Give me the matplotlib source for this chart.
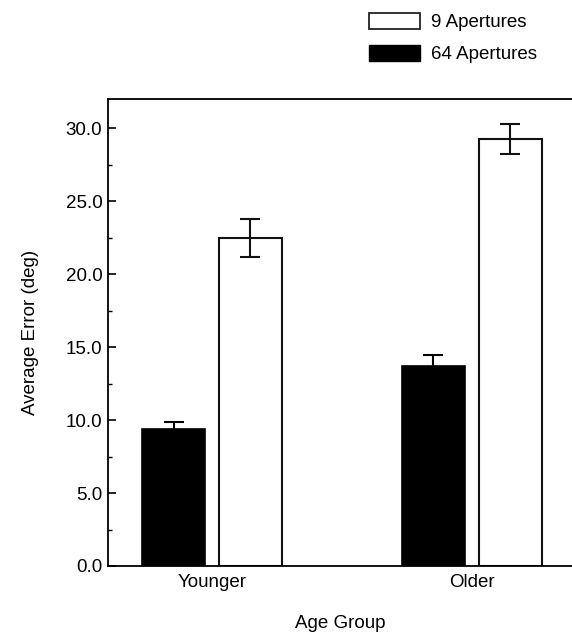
import matplotlib
matplotlib.use('Agg')
import matplotlib.pyplot as plt
import numpy as np
from matplotlib.patches import Patch
from matplotlib.ticker import MultipleLocator, FormatStrFormatter

plt.rcParams['font.family'] = ['Liberation Sans', 'DejaVu Sans']

# data
groups = ['Younger', 'Older']
err64 = [0.45, 0.75]
mean64 = [9.4, 13.7]
mean9 = [22.45, 29.25]
err9 = [1.3, 1.05]

fs = 13.5

fig = plt.figure(figsize=(5.72, 6.32), dpi=100)
ax = fig.add_axes([108/572, 1 - 566/632, 1 - 108/572, (566 - 99)/632])

x = np.arange(len(groups))
w = 0.242
off = 0.148
ax.bar(x - off, mean64, w, color='black', edgecolor='black', lw=1.2, zorder=2)
ax.bar(x + off, mean9, w, color='white', edgecolor='#111111', lw=1.5, zorder=2)
ax.errorbar(x - off, mean64, yerr=err64, fmt='none', ecolor='black',
            elinewidth=1.5, capsize=7.5, capthick=1.5, zorder=3)
ax.errorbar(x + off, mean9, yerr=err9, fmt='none', ecolor='#111111',
            elinewidth=1.5, capsize=7.5, capthick=1.5, zorder=3)

ax.set_xlim(-0.4, 1.385)
ax.set_ylim(0, 32)
ax.set_xticks(x)
ax.set_xticklabels(groups, fontsize=fs)
ax.tick_params(axis='x', length=0, pad=6)
ax.yaxis.set_major_locator(MultipleLocator(5))
ax.yaxis.set_minor_locator(MultipleLocator(2.5))
ax.yaxis.set_major_formatter(FormatStrFormatter('%.1f'))
ax.tick_params(axis='y', which='major', direction='in', length=5.5, width=1.2, labelsize=fs, pad=4)
ax.tick_params(axis='y', which='minor', direction='in', length=3, width=1.0)
ax.spines['right'].set_visible(False)
for s in ['left', 'top', 'bottom']:
    ax.spines[s].set_linewidth(1.3)

ax.set_ylabel('Average Error (deg)', fontsize=fs, labelpad=19)
ax.set_xlabel('Age Group', fontsize=fs, labelpad=17)

handles = [Patch(facecolor='white', edgecolor='#222222', lw=1.3, label='9 Apertures'),
           Patch(facecolor='black', edgecolor='black', label='64 Apertures')]
fig.legend(handles=handles, loc='upper left', bbox_to_anchor=(352/572, 1 + 4/632),
           frameon=False, fontsize=fs, handlelength=2.75, handleheight=0.95,
           handletextpad=0.55, labelspacing=0.7)

plt.savefig('out.png', dpi=100)
